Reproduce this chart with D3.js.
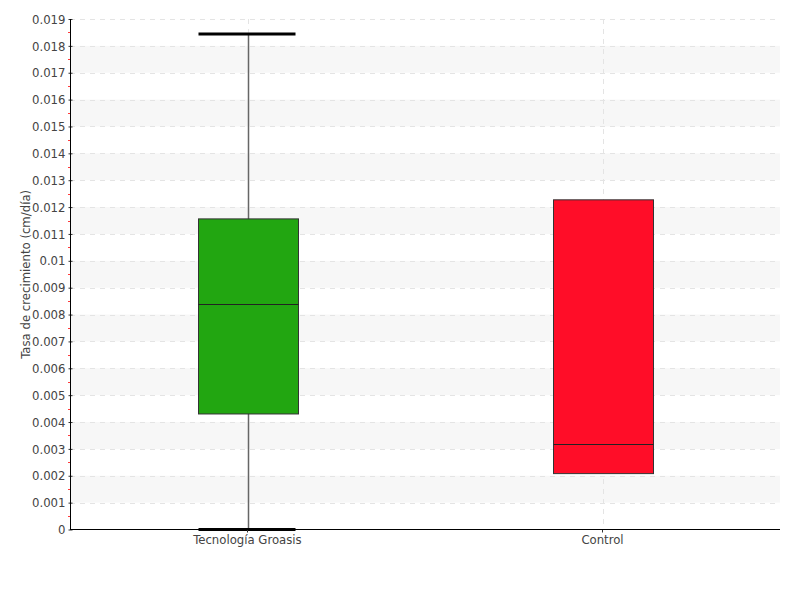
<!DOCTYPE html>
<html><head><meta charset="utf-8">
<script src="https://cdn.jsdelivr.net/npm/d3@7"></script>
<style>body{margin:0;background:#fff}svg{display:block}text{font-family:"Liberation Sans Narrow","DejaVu Sans Condensed",sans-serif;fill:#444}</style>
</head><body><svg id="c" width="800" height="600"></svg>
<script>
const categories = ["Tecnología Groasis", "Control"];
const mins    = [0.0, 0.00208];
const q1s     = [0.0043, 0.00208];
const medians = [0.00839, 0.00318];
const q3s     = [0.01156, 0.01227];
const maxs    = [0.01844, 0.01227];
const colors  = ["#22a611", "#ff0d28"];
const yTicks  = d3.range(0, 0.0191, 0.001);
const yLabel  = "Tasa de crecimiento (cm/día)";

const svg = d3.select("#c");
const m = {l:70, r:780, t:19, b:529.5};
const x = d3.scaleBand().domain(categories).range([m.l, m.r]).paddingInner(0).paddingOuter(0);
const y = d3.scaleLinear().domain([0, 0.019]).range([m.b, m.t]);

// bands
const g = svg.append("g");
for (let i = 1; i < 19; i += 2) {
  g.append("rect").attr("x", m.l+1).attr("width", m.r-m.l-1)
   .attr("y", y((i+1)/1000)).attr("height", y(i/1000)-y((i+1)/1000)).attr("fill", "#f7f7f7");
}
// horizontal grid
g.selectAll("line.h").data(yTicks.slice(1)).join("line")
  .attr("x1", m.l).attr("x2", m.r).attr("y1", d=>Math.round(y(d))+0.5).attr("y2", d=>Math.round(y(d))+0.5)
  .attr("stroke", "#e4e4e4").attr("stroke-dasharray", "5,5");
// vertical grid
g.selectAll("line.v").data(categories).join("line")
  .attr("x1", d=>Math.round(x(d)+x.bandwidth()/2)+0.5).attr("x2", d=>Math.round(x(d)+x.bandwidth()/2)+0.5)
  .attr("y1", m.t).attr("y2", m.b).attr("stroke", "#e4e4e4").attr("stroke-dasharray", "5,5");

// minor red ticks
const minor = d3.range(0.0005, 0.019, 0.001);
svg.selectAll("line.mn").data(minor).join("line")
  .attr("x1", m.l-2).attr("x2", m.l).attr("y1", d=>Math.round(y(d))+0.5).attr("y2", d=>Math.round(y(d))+0.5)
  .attr("stroke", "#ff3b3b");

// boxes
const bw = 100;
categories.forEach((c, i) => {
  const cx = Math.round(x(c)+x.bandwidth()/2)+0.5;
  if (maxs[i] > q3s[i] || mins[i] < q1s[i]) {
    svg.append("line").attr("x1", cx).attr("x2", cx).attr("y1", y(maxs[i])).attr("y2", y(mins[i]))
      .attr("stroke", "#666").attr("stroke-width", 1.5);
    [maxs[i], mins[i]].forEach(v => {
      svg.append("line").attr("x1", cx-bw/2).attr("x2", cx+bw/2-3).attr("y1", y(v)).attr("y2", y(v))
        .attr("stroke", "#000").attr("stroke-width", 3);
    });
  }
  svg.append("rect").attr("x", cx-bw/2).attr("width", bw)
    .attr("y", y(q3s[i])).attr("height", y(q1s[i])-y(q3s[i]))
    .attr("fill", colors[i]).attr("stroke", "#333").attr("stroke-width", 1);
  svg.append("line").attr("x1", cx-bw/2).attr("x2", cx+bw/2).attr("y1", Math.round(y(medians[i]))+0.5).attr("y2", Math.round(y(medians[i]))+0.5)
    .attr("stroke", "#222").attr("stroke-width", 1);
});

// axes
const ya = svg.append("g").attr("transform", `translate(${m.l+0.5},0)`)
  .call(d3.axisLeft(y).tickValues(yTicks).tickFormat(d => d===0 ? "0" : d3.format(".3~f")(d)).tickSize(2).tickPadding(3));
ya.select(".domain").remove();
ya.selectAll(".tick line").attr("x1", -2).attr("x2", 2).attr("stroke", "#333");
ya.selectAll("text").attr("font-size", 13).style("fill", "#444");
svg.append("line").attr("x1", m.l+0.5).attr("x2", m.l+0.5).attr("y1", m.t).attr("y2", m.b).attr("stroke", "#000");

const xa = svg.append("g").attr("transform", `translate(0,${m.b})`)
  .call(d3.axisBottom(x).tickSize(3).tickPadding(2));
xa.select(".domain").remove();
xa.selectAll(".tick line").attr("stroke", "#333");
xa.selectAll("text").attr("font-size", 13).style("fill", "#444");
svg.append("line").attr("x1", m.l).attr("x2", m.r).attr("y1", m.b).attr("y2", m.b).attr("stroke", "#000");

svg.append("text").attr("transform", `translate(30,${(m.t+m.b)/2}) rotate(-90)`)
  .attr("text-anchor", "middle").attr("font-size", 13).text(yLabel);
</script></body></html>
